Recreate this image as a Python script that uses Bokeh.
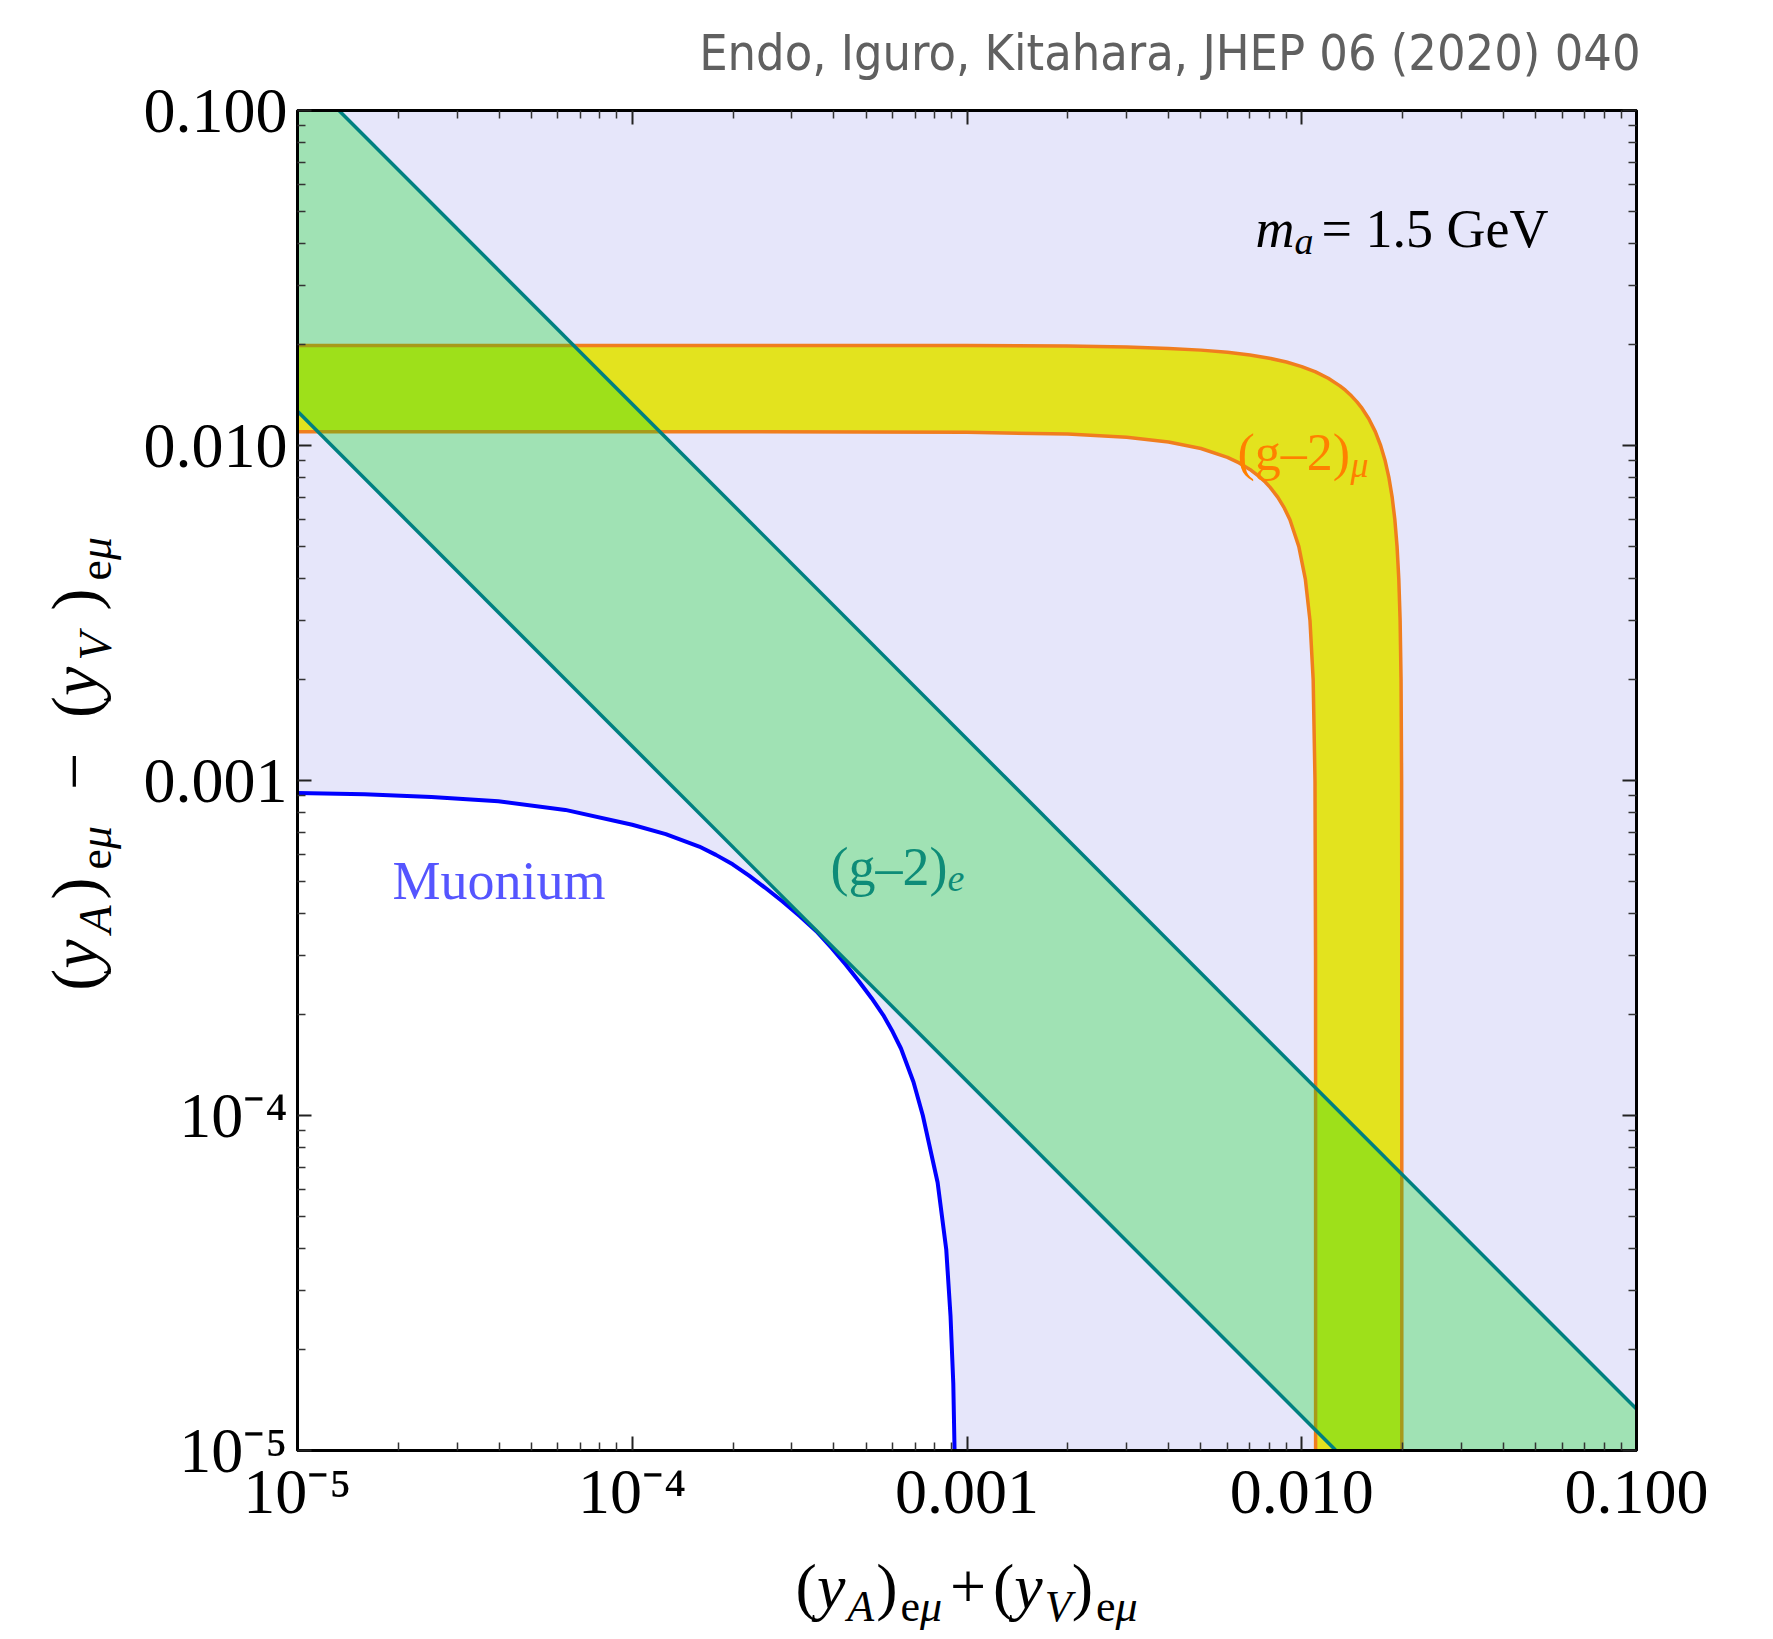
import math
from bokeh.plotting import figure
from bokeh.models import FixedTicker, LogAxis, Label, Range1d
from bokeh.core.properties import value
from bokeh.embed import file_html
from bokeh.resources import INLINE

# ------------------------------------------------------------------ data
x_limits = [1e-5, 0.1]
y_limits = [1e-5, 0.1]
major_ticks = [1e-5, 1e-4, 1e-3, 1e-2, 1e-1]
major_tick_labels = ["10\u207b\u2075", "10\u207b\u2074", "0.001", "0.010", "0.100"]
minor_multipliers = [2, 3, 4, 5, 6, 7, 8, 9]

# Muonium bound (blue curve); the region inside (lower-left) is allowed (white)
muonium_x = [1.0e-5, 1.585e-5, 2.512e-5, 3.981e-5, 6.31e-5, 1.0e-4, 1.259e-4, 1.585e-4,
             1.778e-4, 1.995e-4, 2.239e-4, 2.512e-4, 2.818e-4, 3.162e-4, 3.548e-4,
             3.94e-4, 4.345e-4, 4.76e-4, 5.19e-4, 5.62e-4, 5.998e-4, 6.35e-4, 6.92e-4,
             7.38e-4, 8.17e-4, 8.67e-4, 8.93e-4, 9.10e-4, 9.18e-4]
muonium_y = [9.18e-4, 9.10e-4, 8.93e-4, 8.67e-4, 8.17e-4, 7.38e-4, 6.92e-4, 6.35e-4,
             5.998e-4, 5.62e-4, 5.19e-4, 4.76e-4, 4.345e-4, 3.94e-4, 3.548e-4,
             3.162e-4, 2.818e-4, 2.512e-4, 2.239e-4, 1.995e-4, 1.778e-4, 1.585e-4, 1.259e-4,
             1.0e-4, 6.31e-5, 3.981e-5, 2.512e-5, 1.585e-5, 1.0e-5]

# (g-2)_mu band: outer and inner boundaries
g2mu_outer_x = [1.0e-5, 1.0e-4, 1.0e-3, 2.0e-3, 3.0e-3, 4.0e-3, 5.0e-3, 6.0e-3, 7.0e-3,
                8.0e-3, 9.0e-3, 0.0100, 0.0110, 0.0120, 0.0130, 0.0135, 0.01407,
                0.014621, 0.015067, 0.015875, 0.016583, 0.017205, 0.017749, 0.018221,
                0.018628, 0.018974, 0.019262, 0.019494, 0.019673, 0.019799, 0.019875,
                0.019894, 0.0199, 0.0199]
g2mu_outer_y = [0.0199, 0.0199, 0.019875, 0.019799, 0.019673, 0.019494, 0.019262, 0.018974,
                0.018628, 0.018221, 0.017749, 0.017205, 0.016583, 0.015875, 0.015067,
                0.014621, 0.01407, 0.0135, 0.0130, 0.0120, 0.0110, 0.0100, 9.0e-3, 8.0e-3,
                7.0e-3, 6.0e-3, 5.0e-3, 4.0e-3, 3.0e-3, 2.0e-3, 1.0e-3, 5.0e-4, 1.0e-4, 1.0e-5]
g2mu_inner_x = [1.0e-5, 1.0e-4, 1.0e-3, 2.0e-3, 3.0e-3, 4.0e-3, 5.0e-3, 6.0e-3, 6.5e-3,
                7.0e-3, 7.5e-3, 7.778e-3, 8.047e-3, 8.485e-3, 8.874e-3, 9.22e-3, 9.798e-3,
                0.010247, 0.010583, 0.010817, 0.010954, 0.010995, 0.0110, 0.0110]
g2mu_inner_y = [0.0110, 0.0110, 0.010954, 0.010817, 0.010583, 0.010247, 9.798e-3, 9.22e-3,
                8.874e-3, 8.485e-3, 8.047e-3, 7.778e-3, 7.5e-3, 7.0e-3, 6.5e-3, 6.0e-3,
                5.0e-3, 4.0e-3, 3.0e-3, 2.0e-3, 1.0e-3, 3.0e-4, 1.0e-4, 1.0e-5]

# (g-2)_e band: two straight boundaries in log-log
g2e_upper_x = [1.33e-5, 0.1]
g2e_upper_y = [0.1, 1.33e-5]
g2e_lower_x = [1.0e-5, 0.01265]
g2e_lower_y = [0.01265, 1.0e-5]

header_text = "Endo, Iguro, Kitahara, JHEP 06 (2020) 040"

# ------------------------------------------------------------------ style
LAVENDER = "#E6E6FA"
YELLOW = "#E3E31E"
ORANGE = "#F07E1E"
GREEN = "#00DC14"
TEAL = "#008080"
BLUE = "#0000FF"
SERIF = "Liberation Serif"
CONDENSED = "'DejaVu Sans Condensed', 'Liberation Sans Narrow', Roboto, sans-serif"

FRAME_LEFT, FRAME_TOP = 297, 110
FRAME_W, FRAME_H = 1339, 1340
FRAME_BOTTOM = FRAME_TOP + FRAME_H
CANVAS_W, CANVAS_H = 1768, 1639

p = figure(x_axis_type="log", y_axis_type="log",
           x_range=Range1d(*x_limits), y_range=Range1d(*y_limits),
           frame_width=FRAME_W, frame_height=FRAME_H,
           min_border_left=FRAME_LEFT, min_border_top=FRAME_TOP,
           min_border_right=CANVAS_W - FRAME_LEFT - FRAME_W,
           min_border_bottom=CANVAS_H - FRAME_TOP - FRAME_H,
           output_backend="svg", toolbar_location=None,
           background_fill_color=LAVENDER, border_fill_color="white")
p.grid.visible = False
p.outline_line_color = "black"
p.outline_line_width = 3

# allowed muonium region (white)
p.patch(muonium_x + [x_limits[0]], muonium_y + [y_limits[0]],
        fill_color="white", line_color=None)
p.line(muonium_x, muonium_y, line_color=BLUE, line_width=4)

# (g-2)_mu band
p.patch(g2mu_outer_x + g2mu_inner_x[::-1], g2mu_outer_y + g2mu_inner_y[::-1],
        fill_color=YELLOW, line_color=None)
p.line(g2mu_outer_x, g2mu_outer_y, line_color=ORANGE, line_width=3.5)
p.line(g2mu_inner_x, g2mu_inner_y, line_color=ORANGE, line_width=3.5)

# (g-2)_e band (translucent on top)
band_x = [x_limits[0]] + g2e_upper_x + [x_limits[1]] + g2e_lower_x[::-1]
band_y = [y_limits[1]] + g2e_upper_y + [y_limits[0]] + g2e_lower_y[::-1]
p.patch(band_x, band_y, fill_color=GREEN, fill_alpha=0.3, line_color=None)
p.line(g2e_upper_x, g2e_upper_y, line_color=TEAL, line_width=3.5)
p.line(g2e_lower_x, g2e_lower_y, line_color=TEAL, line_width=3.5)

# ------------------------------------------------------------------ axes
minor_ticks = [m * d for d in major_ticks[:-1] for m in minor_multipliers]
p.add_layout(LogAxis(), "above")
p.add_layout(LogAxis(), "right")


def style_axis(ax, with_labels):
    ax.ticker = FixedTicker(ticks=major_ticks, minor_ticks=minor_ticks)
    ax.major_tick_in = 14
    ax.major_tick_out = 0
    ax.minor_tick_in = 8
    ax.minor_tick_out = 0
    ax.major_tick_line_color = "#222222"
    ax.minor_tick_line_color = "#333333"
    ax.major_tick_line_width = 2
    ax.minor_tick_line_width = 1.5
    ax.axis_line_color = "black"
    ax.axis_line_width = 3
    ax.axis_label = None
    if with_labels:
        ax.major_label_overrides = dict(zip(major_ticks, major_tick_labels))
        ax.major_label_text_font = SERIF
        ax.major_label_text_font_size = "64px"
        ax.major_label_text_color = "black"
    else:
        ax.major_label_overrides = {t: "" for t in major_ticks}
        ax.major_label_text_font_size = "1px"
        ax.major_label_standoff = 0


for ax in p.below + p.left:
    style_axis(ax, True)
for ax in p.above + p.right:
    style_axis(ax, False)
p.xaxis[0].major_label_standoff = 26
p.yaxis[0].major_label_standoff = 10


# ------------------------------------------------------------------ texts
def add_label(txt, page_x, page_y, size, color="black", style="normal"):
    """In-frame label, placed by page pixel position of its baseline start."""
    p.add_layout(Label(x=page_x - FRAME_LEFT, y=FRAME_BOTTOM - page_y,
                       x_units="screen", y_units="screen", text=txt,
                       text_font=SERIF, text_font_size=f"{size}px",
                       text_color=color, text_font_style=style,
                       text_align="left", text_baseline="alphabetic"))


def page_to_data(px, py):
    lx0, lx1 = math.log10(x_limits[0]), math.log10(x_limits[1])
    ly0, ly1 = math.log10(y_limits[0]), math.log10(y_limits[1])
    xd = 10 ** (lx0 + (px - FRAME_LEFT) / FRAME_W * (lx1 - lx0))
    yd = 10 ** (ly1 - (py - FRAME_TOP) / FRAME_H * (ly1 - ly0))
    return xd, yd


MID = 0.3375  # text glyph anchor sits this many em above the baseline


def add_outside_text(txt, base_x, base_y, size, style="normal", rotated=False,
                     font=SERIF, color="black", align="left", mid=MID):
    """Text outside the frame: a text glyph drawn at overlay level (not clipped).
    (base_x, base_y) is the page position of the baseline anchor."""
    if rotated:
        px, py, angle = base_x - mid * size, base_y, math.pi / 2
    else:
        px, py, angle = base_x, base_y - mid * size, 0.0
    xd, yd = page_to_data(px, py)
    p.text(x=[xd], y=[yd], text=[txt], text_font=value(font),
           text_font_size=value(f"{size}px"), text_font_style=value(style),
           text_color=color, text_align=align, text_baseline="alphabetic",
           angle=angle, level="overlay")


# header (citation), right-aligned above the frame
add_outside_text(header_text, 1640, 70, 50, font=CONDENSED, color="#606060",
                 align="right", mid=0.346)

# m_a = 1.5 GeV
add_label("m", 1255, 228, 54, style="italic")
add_label("a", 1294, 240, 38, style="italic")
add_label("= 1.5 GeV", 1321, 228, 54)

# region labels
add_label("Muonium", 392, 880, 54, color="#5555FF")
add_label("(g\u20132)", 830, 866, 54, color="#0E8C78")
add_label("e", 947, 878, 38, color="#0E8C78", style="italic")
add_label("(g\u20132)", 1237, 452, 52, color="#FF8000")
add_label("\u03bc", 1350, 464, 36, color="#FF8000", style="italic")

# axis titles built from pieces
EM = {"(": .333, ")": .333, "y": .444, "A": .611, "V": .611, "e": .444,
      "\u03bc": .52, "+": .564, "\u2212": .564}


def title_pieces(op, big, small, gaps):
    chars = [("(", "normal", False), ("y", "italic", False), ("A", "italic", True),
             (")", "normal", False), ("e", "normal", True), ("\u03bc", "italic", True),
             (op, "normal", False), ("(", "normal", False), ("y", "italic", False),
             ("V", "italic", True), (")", "normal", False), ("e", "normal", True),
             ("\u03bc", "italic", True)]
    seq, offs, pos = [], [], 0.0
    for (ch, st, sub), gap in zip(chars, gaps):
        sz = small if sub else big
        seq.append((ch, st, sz, sub))
        offs.append(pos)
        pos += EM[ch] * sz + gap
    return seq, offs, pos


# x title
seq, offs, total = title_pieces("+", 64, 44, [0, 2, 2, 3, 0, 7, 7, 0, 2, 0, 3, 0, 0])
x0 = FRAME_LEFT + FRAME_W / 2 - total / 2
for (ch, st, sz, sub), o in zip(seq, offs):
    add_outside_text(ch, x0 + o, 1608 + (13 if sub else 0), sz, style=st)

# y title (rotated)
seq, offs, total = title_pieces("\u2212", 66, 46, [0, 6, 6, 8, 0, 35, 35, 0, 6, 22, 8, 0, 0])
y0 = 763 + total / 2
for (ch, st, sz, sub), o in zip(seq, offs):
    add_outside_text(ch, 96 + (15 if sub else 0), y0 - o, sz, style=st, rotated=True)

open("out.html", "w").write(file_html(p, INLINE))
